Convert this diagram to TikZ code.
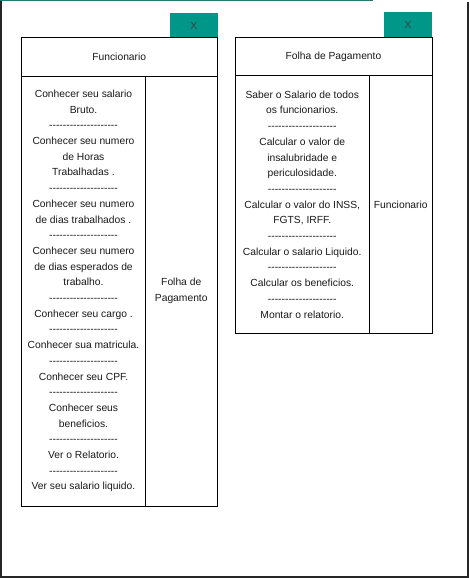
\documentclass[tikz,border=0pt]{standalone}
\usepackage{fontspec}
\setmainfont{Liberation Sans}
\definecolor{btncol}{HTML}{009688}
\definecolor{topline}{HTML}{1F7A70}
\definecolor{txt}{HTML}{1A1A1A}
\newcommand\hy{\mbox{-}}
\newcommand\dl{\hy\hy\hy\hy\hy\hy\hy\hy\hy\hy\hy\hy\hy\hy\hy\hy\hy\hy\hy\hy}
\begin{document}
\begin{tikzpicture}[x=1pt,y=-1pt,
  box/.style={draw=black, line width=1pt, inner sep=0pt, outer sep=0pt, align=center,
    font=\fontsize{10.3}{15.7}\selectfont, text=txt, anchor=north west},
  btn/.style={fill=btncol, draw=none, inner sep=0pt, outer sep=0pt, anchor=north west,
    font=\fontsize{10.3}{12}\selectfont, text=black!75}]
\useasboundingbox (0,0) rectangle (470,578);
\fill[white] (0,0) rectangle (470,578);
% outer frame
\draw[line width=1.6pt, black!85] (1,0) -- (1,577) -- (468,577) -- (468,2);
\draw[line width=1.5pt, topline] (0,0.75) -- (373,0.75);
% buttons
\node[btn, minimum width=47.5pt, minimum height=25pt] (btnA) at (170,13) {X};
\node[btn, minimum width=48pt, minimum height=25pt] (btnB) at (384,12) {X};
% left table
\node[box, minimum width=195.5pt, minimum height=38pt] (fhead) at (21.5,38) {Funcionario};
\node[box, minimum width=124pt, minimum height=430pt] (fresp) at (21.5,76) {Conhecer seu salario\\Bruto.\\\dl\\Conhecer seu numero\\de Horas\\Trabalhadas .\\\dl\\Conhecer seu numero\\de dias trabalhados .\\\dl\\Conhecer seu numero\\de dias esperados de\\trabalho.\\\dl\\Conhecer seu cargo .\\\dl\\Conhecer sua matricula.\\\dl\\Conhecer seu CPF.\\\dl\\Conhecer seus\\beneficios.\\\dl\\Ver o Relatorio.\\\dl\\Ver seu salario liquido.};
\node[box, minimum width=71.5pt, minimum height=430pt] (fcolab) at (145.5,76) {Folha de\\Pagamento};
% right table
\node[box, minimum width=197pt, minimum height=37.5pt] (phead) at (235,38) {Folha de Pagamento};
\node[box, minimum width=134.5pt, minimum height=258pt] (presp) at (235,75.5) {Saber o Salario de todos\\os funcionarios.\\\dl\\Calcular o valor de\\insalubridade e\\periculosidade.\\\dl\\Calcular o valor do INSS,\\FGTS, IRFF.\\\dl\\Calcular o salario Liquido.\\\dl\\Calcular os beneficios.\\\dl\\Montar o relatorio.};
\node[box, minimum width=62.5pt, minimum height=258pt] (pcolab) at (369.5,75.5) {Funcionario};
\end{tikzpicture}
\end{document}
